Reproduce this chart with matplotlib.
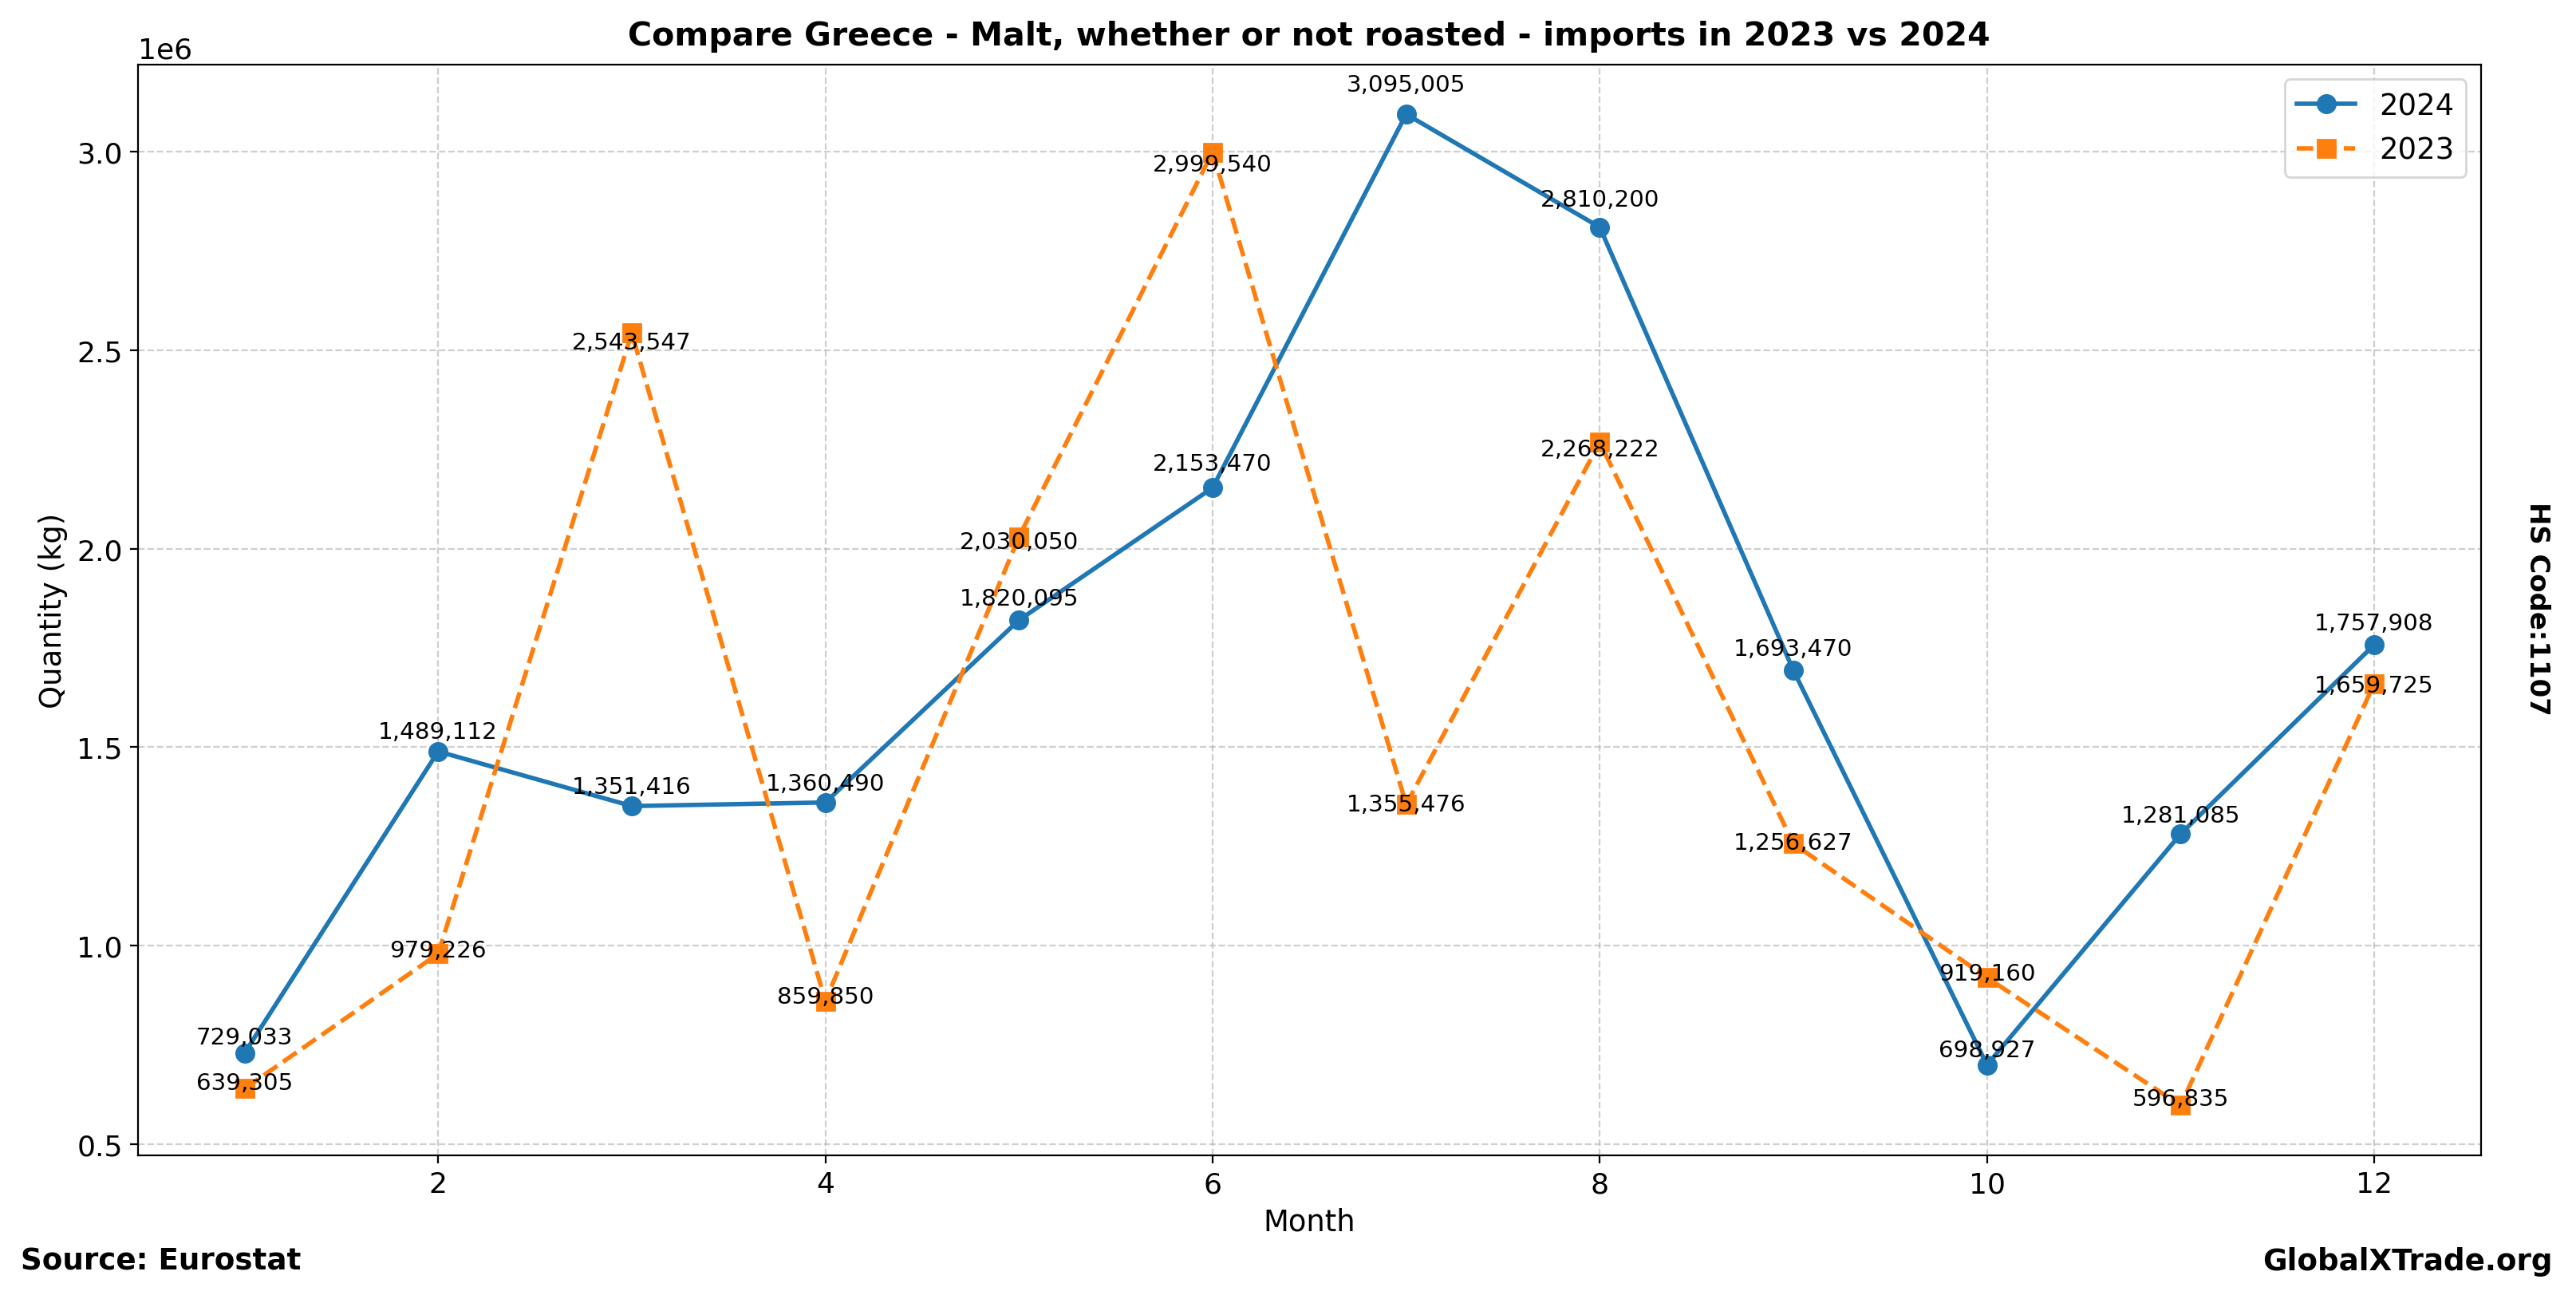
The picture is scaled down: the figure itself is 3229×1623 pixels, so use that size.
import matplotlib
matplotlib.use('Agg')
import matplotlib.pyplot as plt

# Monthly import quantities (kg)
months = [1, 2, 3, 4, 5, 6, 7, 8, 9, 10, 11, 12]
qty_2024 = [729033, 1489112, 1351416, 1360490, 1820095, 2153470,
            3095005, 2810200, 1693470, 698927, 1281085, 1757908]
qty_2023 = [639305, 979226, 2543547, 859850, 2030050, 2999540,
            1355476, 2268222, 1256627, 919160, 596835, 1659725]

fig, ax = plt.subplots(figsize=(16.145, 8.12), dpi=200)
fig.subplots_adjust(left=0.0536, right=0.963, top=0.9495, bottom=0.108)

ax.plot(months, qty_2024, marker='o', linestyle='-', color='#1f77b4',
        linewidth=2, markersize=8, label='2024')
ax.plot(months, qty_2023, marker='s', linestyle='--', color='#ff7f0e',
        linewidth=2, markersize=8, label='2023')

# value labels
for x, y in zip(months, qty_2024):
    ax.text(x, y * 1.015, f'{y:,}', ha='center', va='bottom', fontsize=10.6)
for x, y in zip(months, qty_2023):
    ax.text(x, y * 0.98, f'{y:,}', ha='center', va='bottom', fontsize=10.6)

ax.set_title('Compare Greece - Malt, whether or not roasted - imports in 2023 vs 2024',
             fontsize=14.8, fontweight='bold', pad=9)
ax.set_xlabel('Month', fontsize=13.3)
ax.set_ylabel('Quantity (kg)', fontsize=13.3)
ax.tick_params(labelsize=13)
ax.yaxis.get_offset_text().set_fontsize(13)
ax.grid(True, linestyle='--', alpha=0.6)
ax.legend(loc='upper right', fontsize=13.3)

fig.text(0.008, 0.02, 'Source: Eurostat', fontsize=13.4, fontweight='bold',
         ha='left', va='baseline')
fig.text(0.991, 0.02, 'GlobalXTrade.org', fontsize=13.4, fontweight='bold',
         ha='right', va='baseline')
fig.text(0.985, 0.53, 'HS Code:1107', fontsize=12.2, fontweight='bold',
         rotation=270, ha='center', va='center')

fig.savefig('out.png', dpi=200)
